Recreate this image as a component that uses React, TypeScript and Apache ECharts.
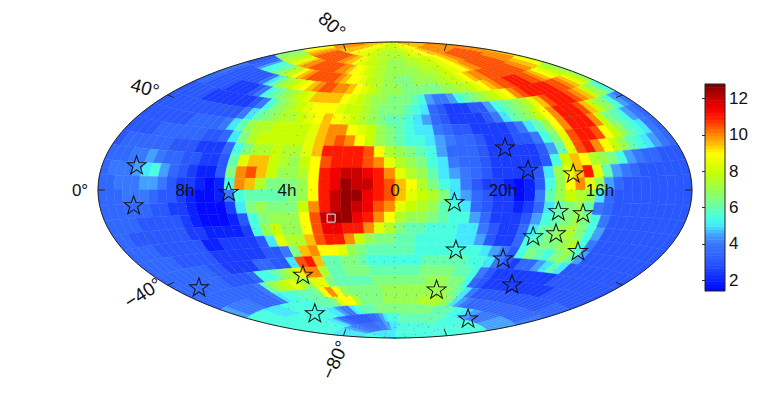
import React, { useEffect, useRef } from "react";
import * as echarts from "echarts";

// Cell values, north to south, 6 deg in longitude by 6 deg in latitude; A=1.5, B=2, ... X=13 (steps of 0.5)
const rows: string[] = [
  "QQQQQQQQQQ PPPPPPOOOO NNNNNNNNNN NNNNOOOOOO PPPPPPQQQQ QQQQQQQQQQ",
  "RRRRRRQQQQ QQPPPOOOON NNNNMMMMMM MMMMNNNOOO OPPPQQQRRR RRRRRRRRRR",
  "PPPQQRRSSS SSSSSRRQQP OONNNMMMLL LLLMMMMNNN NOOPPQQRRS SSSSSSSRRR",
  "KKLLMMNOOQ RRSSSSSSRR QPPONNMMLL LLLLLMMMMN NOOPPQRRSS SSSSSRRRRQ",
  "DDEEGIIJJL MNPQRSSSSS RQPPONMMLL KKKLLLLMMN NOPQRRSSSS SSSSRRQQPO",
  "FEDDDDDDDF HJLMNOPQRS SRRQPONMLL LKKKKKKLLM MNOPQRSSTT TSSRQPONML",
  "EEDDDDCCCC DFIJKLMNOQ QQQPONMLLK KKJIGFFGIJ KLMNOPRSTT TTTSSRQONL",
  "DDDDDCCCCC CCDFIKLMNO PPPONNMLKK KJIHEDCCCD DGIJKLMOQS TTTSRQNLKI",
  "DDDDDDDDDD DDFHJKLMMN OPQPONMLKJ JIHGEDCCCC DFHJKLNPRT TTSQNLKIGF",
  "DDDDDDDEEE EFHJLMMNNN NOQRRPONLK JIHHFEDDCC CCDFHJLPRT TTRNKJIGFE",
  "DDDDEEEEEE DDEHKMNNNN NOQRSRPNLK JIIHGFEEDC CCDDFIKOST TSPNLJIHFE",
  "DEEEEEEDDD CCCEIKMMNM MOQTTTTSPM LKJIGEEEDC CCCCDGJOST RPNLJIHGFE",
  "EEEFFGFEED DCCDJOQQNM LNPSTTTSRO MLKIHFEEDC CCCCDINQPM LKIGFEEDDD",
  "EFFFGHIGED CBBDKRSQNL LMPTUVVUTR OMLJHGFEDC CCCDHLOQTO JGFEDDDDDD",
  "EEFFFGGFDC CBABIRQMKK KLPTUWVVTS QPMKIHFDCC BABDILPROL GEDDDDDDDD",
  "EEEFFFEDDC BAABFIJJJJ KLPTVWWUTS QONMKHGEDC CABFJLNMLH EDDDDDDDDD",
  "EEEEEEDDCC BAAACHKLKK KNRTVWVUSR ONMLJIHEDC CBCEHJKLJF EDDDDDDDDD",
  "EEEEDDDDDC BAAABDIKLL LPSVWWUTRP MLLKJIIGEC CCDGIJKLKI FDDDDDDDDD",
  "EEDDDDDDDC CBBBBCILNL LPSUUTTROM KJJIIIHHFD CCEHJKLMKI GDDDDDDDDD",
  "EEEEDDDDDD BBCCCCDHOM MQSTTRNLKK JJIIIIHHGD CCEIJKKLMI FDDDDDDDDD",
  "EEEEEDDDDD CCCCCCDDFK QRPPOLKJJJ JJIIIIIIIH GFDIKJIKLJ GDDDDDDDDD",
  "EEEEEEEEDD CCCCEEDDHS TQJJKKJIII IIIJJJJJII HFDCEEGHJH DDDDDDDDDD",
  "EEEEEEEEDD DDEIIJLMOR RMJJKKKJJJ JJJKKKKJJI FDCCCCCCCC DDDDDDDDDD",
  "EEEEEEEEEE EFJLMNOMLO OKJJJJJKKK KKKKLLLKKI EDCCCCCCCC CCDDDDDDDD",
  "GGFFFFFEEE EFHIIJJJKP RPLKKKKKLL LLLLLLLLKJ HFDDDDDDDD DDDDDDEEEE",
  "IIIIIIHHHH IIIIIIJJJK OPPMKKKKLL LLLLMMMMLK HGFEEEEEEE EEEEEEEEFF",
  "IIIIIIIIII IIIIIIHHGF FHIJJJKKKK KKKKKKKKJJ JJIIHHGGFF FFFGGGGGGG",
  "IIIIIIIIII IIHHGEEDDD DDDEEFGHII IJJJJJJJJJ JJJIIIIIII IIIIIIIIII",
  "HHHHHHHHHH GGGFFFFEEE EEEFFFGGHH HIIIIIIIII IIIIIIIIII IIIIIIIIII",
  "IIIIIIIIII HHHHHHHHHH HHHHHHHHHH IIIIIIIIII IIIIIIIIII IIIIIIIIII",
];

// Star positions in map units (x, y in -1..1)
const starX = [-0.87, -0.88, -0.56, -0.66, -0.31, -0.27, 0.14, 0.205, 0.20, 0.246, 0.364, 0.394, 0.37, 0.448, 0.60, 0.55, 0.633, 0.465, 0.542, 0.616];
const starY = [0.17, -0.10, -0.01, -0.655, -0.57, -0.83, -0.67, -0.40, -0.08, -0.865, -0.46, -0.635, 0.29, 0.14, 0.115, -0.14, -0.155, -0.31, -0.29, -0.41];
const markerX = [-0.215];
const markerY = [-0.19];

const cbStops: [number, string][] = [
  [1.3, "#0000ff"], [2, "#0a22ff"], [3, "#2a58ff"], [4, "#3878ff"], [4.5, "#44a0ff"], [4.75, "#48c0ff"],
  [5, "#44e8ff"], [5.5, "#48ffe0"], [6, "#64ffb0"], [6.5, "#80ff80"], [7, "#98ff50"],
  [7.5, "#b0ff28"], [8, "#c8ff00"], [9, "#ffff00"], [9.5, "#ffc000"], [10, "#ff8c00"],
  [10.5, "#ff5000"], [11, "#ff1800"], [11.5, "#f00000"], [12, "#c80000"], [12.5, "#980000"], [13, "#600000"],
];
const cbTicks = [2, 4, 6, 8, 10, 12];
const decLines = [-80, -60, -40, -20, 0, 20, 40, 60, 80];
const raLines = [-120, -60, 0, 60, 120];
const edgeTicks = [-80, -40, 0, 40, 80];
const raLabels: [string, number][] = [["8h", 185], ["4h", 287], ["0", 395], ["20h", 503], ["16h", 600]];

const CELL = 6;
const CX = 395, CY = 190, RX = 297, RY = 148;

function project(lon: number, lat: number): [number, number] {
  const l = (lon * Math.PI) / 360;
  const p = (lat * Math.PI) / 180;
  const w = Math.sqrt(1 + Math.cos(p) * Math.cos(l));
  return [(-Math.cos(p) * Math.sin(l)) / w, Math.sin(p) / w];
}

function hex(c: string) {
  return [parseInt(c.slice(1, 3), 16), parseInt(c.slice(3, 5), 16), parseInt(c.slice(5, 7), 16)];
}
function colorOf(v: number) {
  for (let i = 1; i < cbStops.length; i++) {
    if (v <= cbStops[i][0]) {
      const [a, ca] = cbStops[i - 1];
      const [b, cb] = cbStops[i];
      const t = Math.max(0, (v - a) / (b - a));
      const A = hex(ca), B = hex(cb);
      return `rgb(${A.map((x, k) => Math.round(x + (B[k] - x) * t)).join(",")})`;
    }
  }
  return cbStops[cbStops.length - 1][1];
}

const cells: number[][] = [];
rows.forEach((r, ri) => {
  const s = r.replace(/ /g, "");
  for (let ci = 0; ci < s.length; ci++) {
    cells.push([ci, ri, 1.5 + 0.5 * (s.charCodeAt(ci) - 65), s.length]);
  }
});

const starPath =
  "path://M10 0L12.35 6.76L19.51 6.91L13.8 11.24L15.88 18.09L10 14L4.12 18.09L6.2 11.24L0.49 6.91L7.65 6.76Z";

const levels: number[] = [];
for (let i = 0; i < 64; i++) levels.push(1.4 + (i * 11.4) / 64);

export default function App() {
  const ref = useRef<HTMLDivElement>(null);
  useEffect(() => {
    document.body.style.margin = "0";
    const chart = echarts.init(ref.current!, null, { renderer: "svg" });
    const font = "Liberation Sans";
    const labelStyle = { fill: "#111", fontFamily: font, fontSize: 17, align: "center", verticalAlign: "middle" };
    const decStyle = { ...labelStyle, fontSize: 19 };
    chart.setOption({
      animation: false,
      grid: [
        { left: CX - RX, top: CY - RY, width: 2 * RX, height: 2 * RY },
        { left: 705, top: 84, width: 20, height: 207, show: true, borderColor: "#222", borderWidth: 1, backgroundColor: "transparent", z: 5 },
      ],
      xAxis: [
        { gridIndex: 0, type: "value", min: -1, max: 1, show: false },
        { gridIndex: 1, type: "value", min: 0, max: 1, show: false },
      ],
      yAxis: [
        { gridIndex: 0, type: "value", min: -1, max: 1, show: false },
        {
          gridIndex: 1, type: "value", min: 1.4, max: 12.8, position: "right", splitLine: { show: false },
          axisLine: { show: true, lineStyle: { color: "#222" } },
          axisTick: { show: true, inside: true, length: 3, customValues: cbTicks, lineStyle: { color: "#333" } },
          axisLabel: { customValues: cbTicks, color: "#111", fontFamily: font, fontSize: 17, margin: 4 },
        },
      ],
      series: [
        {
          type: "custom", xAxisIndex: 0, yAxisIndex: 0, silent: true, clip: false, data: cells, z: 1,
          renderItem: (_: any, api: any) => {
            const ci = api.value(0), ri = api.value(1), v = api.value(2), n = api.value(3);
            const dw = 360 / n;
            const lonA = 180 - ci * dw, lonB = lonA - dw;
            const latA = 90 - ri * CELL, latB = latA - CELL;
            const pts = [
              [lonA, latA], [(lonA + lonB) / 2, latA], [lonB, latA], [lonB, (latA + latB) / 2],
              [lonB, latB], [(lonA + lonB) / 2, latB], [lonA, latB], [lonA, (latA + latB) / 2],
            ].map(([a, b]) => api.coord(project(a, b)));
            const color = colorOf(v);
            return { type: "polygon", shape: { points: pts }, style: { fill: color, stroke: color, lineWidth: 0.4 } };
          },
        },
        {
          type: "custom", xAxisIndex: 0, yAxisIndex: 0, silent: true, clip: false, z: 2,
          data: [...decLines.map((d) => [0, d]), ...raLines.map((r) => [1, r])],
          renderItem: (_: any, api: any) => {
            const kind = api.value(0), val = api.value(1);
            const pts: number[][] = [];
            for (let t = -180; t <= 180; t += 5) {
              pts.push(api.coord(kind === 0 ? project(t, val) : project(val, t / 2)));
            }
            return { type: "polyline", shape: { points: pts }, style: { fill: "none", stroke: "#777", lineWidth: 0.8, lineDash: [1, 9] } };
          },
        },
        {
          type: "custom", xAxisIndex: 0, yAxisIndex: 0, silent: true, clip: false, z: 3,
          data: edgeTicks.flatMap((d) => [[180, d], [-180, d]]),
          renderItem: (_: any, api: any) => {
            const [px, py] = api.coord(project(api.value(0), api.value(1)));
            const dx = px - CX, dy = py - CY, len = Math.hypot(dx, dy);
            return {
              type: "line",
              shape: { x1: px, y1: py, x2: px - (dx / len) * 7, y2: py - (dy / len) * 7 },
              style: { stroke: "#222", lineWidth: 1 },
            };
          },
        },
        {
          type: "scatter", xAxisIndex: 0, yAxisIndex: 0, silent: true, clip: false, z: 6,
          data: starX.map((x, i) => [x, starY[i]]),
          symbol: starPath, symbolSize: [19, 18],
          itemStyle: { color: "rgba(0,0,0,0)", borderColor: "#111", borderWidth: 1, opacity: 1 },
        },
        {
          type: "scatter", xAxisIndex: 0, yAxisIndex: 0, silent: true, clip: false, z: 6,
          data: markerX.map((x, i) => [x, markerY[i]]),
          symbol: "rect", symbolSize: 8,
          itemStyle: { color: "rgba(0,0,0,0)", borderColor: "#f4e8e8", borderWidth: 1, opacity: 1 },
        },
        {
          type: "custom", xAxisIndex: 1, yAxisIndex: 1, silent: true, z: 2, clip: true,
          data: levels.map((v) => [v]),
          renderItem: (_: any, api: any) => {
            const v = api.value(0);
            const a = api.coord([0, v]);
            const b = api.coord([1, v + 11.4 / 64]);
            const color = colorOf(v + 0.09);
            return { type: "rect", shape: { x: a[0], y: b[1], width: b[0] - a[0], height: a[1] - b[1] + 0.5 }, style: { fill: color } };
          },
        },
      ],
      graphic: [
        { type: "ellipse", z: 10, silent: true, shape: { cx: CX, cy: CY, rx: RX, ry: RY }, style: { fill: "none", stroke: "#222", lineWidth: 1 } },
        ...raLabels.map(([t, x]) => ({ type: "text", z: 11, x, y: 190, silent: true, style: { ...labelStyle, text: t } })),
        { type: "text", z: 11, x: 80, y: 190, silent: true, style: { ...labelStyle, text: "0°" } },
        { type: "text", z: 11, x: 145, y: 88, rotation: (-15 * Math.PI) / 180, silent: true, style: { ...decStyle, text: "40°" } },
        { type: "text", z: 11, x: 143, y: 293, rotation: (33 * Math.PI) / 180, silent: true, style: { ...decStyle, text: "−40°" } },
        { type: "text", z: 11, x: 332, y: 25, rotation: (-42 * Math.PI) / 180, silent: true, style: { ...decStyle, text: "80°" } },
        { type: "text", z: 11, x: 335, y: 360, rotation: (65 * Math.PI) / 180, silent: true, style: { ...decStyle, text: "−80°" } },
      ],
    });
    return () => chart.dispose();
  }, []);
  return <div ref={ref} style={{ width: 763, height: 393 }} />;
}
